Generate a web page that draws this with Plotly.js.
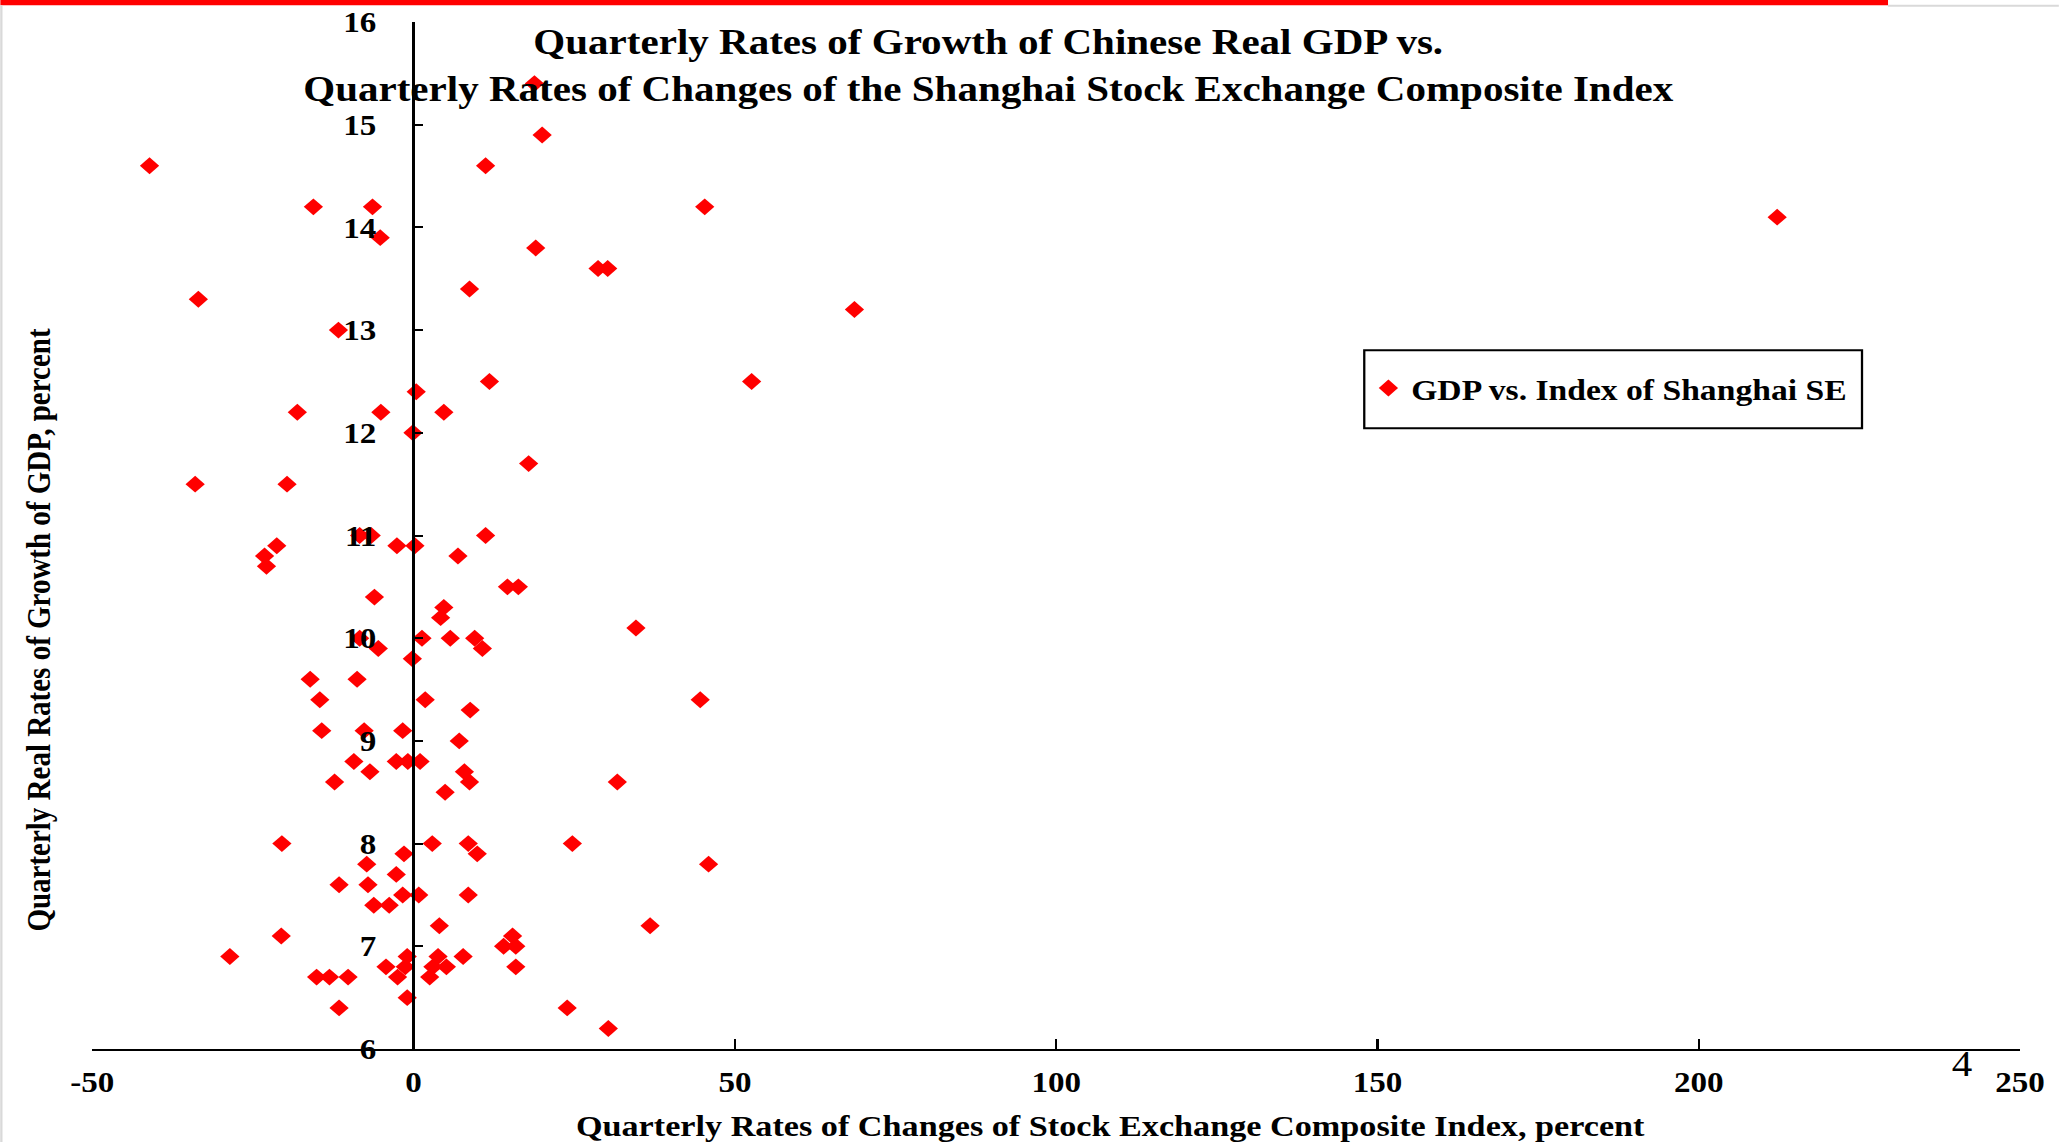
<!DOCTYPE html>
<html>
<head>
<meta charset="utf-8">
<script src="https://cdn.plot.ly/plotly-3.0.1.min.js"></script>
<style>
  html, body { margin: 0; padding: 0; background: #ffffff; overflow: hidden; }
  #stage { width: 2059px; height: 1142px; overflow: hidden; }
  /* the reference slide is stretched horizontally; reproduce that stretch */
  #chart { width: 1806px; height: 1142px; transform: scaleX(1.14); transform-origin: 0 0; }
</style>
</head>
<body>
<div id="stage"><div id="chart"></div></div>
<script>
// Quarterly change of the Shanghai SE Composite Index, percent
const indexChange = [
  -41.1, -33.5, -15.6, -6.4, -5.2, -11.7, 11.2, 8.7, 18.8, 20.0,
  45.3, 19.0, 28.7, 30.2, 68.6, 212.2, 0.4, 11.8, -18.1, -5.1,
  4.7, -0.1, -34.0, -19.7, -8.4, -6.6, 11.2, -2.6, 0.2, -21.3,
  -23.2, -22.9, 6.9, -6.1, 4.7, 4.2, -8.4, -5.5, 1.3, 5.7,
  9.5, 10.7, -0.2, -16.1, -8.8, 52.6, 17.9, 14.6, 16.3, 34.6,
  44.6, -14.6, 1.8, 8.8, -14.3, -7.7, -1.7, 7.1, -9.3, -2.7,
  -0.9, 1.0, -6.8, 7.9, 8.7, -12.3, 4.9, 31.7, -20.5, 2.9,
  8.5, 9.9, -1.5, -7.3, -2.7, -11.6, -7.1, -1.7, 0.8, 8.5,
  -6.2, -3.8, 4.0, -20.6, 14.0, 15.9, 15.4, 15.9, -28.6, -1.0,
  3.8, 7.7, -4.3, -1.3, 3.0, 5.1, -15.1, -13.1, -10.2, -2.5,
  2.5, -11.6, -1.0, 24.7, 45.9, 36.8, 23.9, 30.3
];
// Quarterly real growth rate of GDP, percent
const gdpGrowth = [
  14.6, 13.3, 14.2, 14.2, 13.9, 13.0, 14.6, 13.4, 15.4, 14.9,
  14.2, 13.8, 13.6, 13.6, 13.2, 14.1, 12.4, 12.5, 12.2, 12.2,
  12.2, 12.0, 11.5, 11.5, 11.0, 11.0, 11.0, 10.9, 10.9, 10.9,
  10.8, 10.7, 10.8, 10.4, 10.3, 10.2, 10.0, 9.9, 10.0, 10.0,
  10.0, 9.9, 9.8, 9.6, 9.6, 12.5, 11.7, 10.5, 10.5, 10.1,
  9.4, 9.4, 9.4, 9.3, 9.1, 9.1, 9.1, 9.0, 8.8, 8.8,
  8.8, 8.8, 8.7, 8.7, 8.6, 8.6, 8.5, 8.6, 8.0, 8.0,
  8.0, 7.9, 7.9, 7.8, 7.7, 7.6, 7.6, 7.5, 7.5, 7.5,
  7.4, 7.4, 7.2, 7.1, 7.0, 7.0, 7.1, 6.8, 6.9, 6.9,
  6.9, 6.9, 6.8, 6.8, 6.8, 6.8, 6.7, 6.7, 6.7, 6.7,
  6.7, 6.4, 6.5, 8.0, 7.8, 7.2, 6.4, 6.2
];
const xTickVals = [-50, 0, 50, 100, 150, 200, 250];
const xTickText = ['-50', '0', '50', '100', '150', '200', '250'];
const yTickVals = [6, 7, 8, 9, 10, 11, 12, 13, 14, 15, 16];
const yTickText = ['6', '7', '8', '9', '10', '11', '12', '13', '14', '15', '16'];

const chartTitle = 'Quarterly Rates of Growth of Chinese Real GDP vs.<br>Quarterly Rates of Changes of the Shanghai Stock Exchange Composite Index';
const xTitle = 'Quarterly Rates of Changes of Stock Exchange Composite Index, percent';
const yTitle = 'Quarterly Real Rates of Growth of GDP, percent';
const seriesName = 'GDP vs. Index of Shanghai SE';
const slideNumber = '4';

const serif = 'Liberation Serif, Times New Roman, serif';
const bold = (size) => ({ family: serif, size: size, color: '#000000', weight: 'bold' });

const trace = {
  type: 'scatter',
  mode: 'markers',
  x: indexChange,
  y: gdpGrowth,
  name: seriesName,
  showlegend: true,
  marker: { symbol: 'diamond', size: 13, color: '#ff0000', line: { width: 0 } },
  hoverinfo: 'x+y'
};

const layout = {
  width: 1806,
  height: 1142,
  paper_bgcolor: '#ffffff',
  plot_bgcolor: '#ffffff',
  margin: { l: 81, r: 34, t: 22, b: 93, pad: 0 },
  title: {
    text: chartTitle,
    font: bold(36),
    x: 0.48, xref: 'container', xanchor: 'center',
    y: 0.9525, yref: 'container', yanchor: 'middle'
  },
  showlegend: true,
  legend: {
    x: 0.6605, y: 0.6433, xanchor: 'left', yanchor: 'middle',
    xref: 'paper', yref: 'paper',
    bgcolor: 'rgba(0,0,0,0)', borderwidth: 0,
    font: bold(29.5)
  },
  xaxis: {
    range: [-50, 250],
    domain: [0, 1],
    tickmode: 'array', tickvals: xTickVals, ticktext: xTickText,
    ticks: 'inside', ticklen: 10, tickwidth: 2, tickcolor: '#000000',
    showline: true, linewidth: 2, linecolor: '#000000',
    showgrid: false, zeroline: false,
    tickfont: bold(29),
    ticklabelstandoff: 6,
    anchor: 'y'
  },
  yaxis: {
    range: [6, 16],
    tickmode: 'array', tickvals: yTickVals, ticktext: yTickText,
    anchor: 'free', position: 1 / 6, side: 'left',
    ticks: 'inside', ticklen: 7, tickwidth: 2, tickcolor: '#000000',
    showline: true, linewidth: 2, linecolor: '#000000',
    showgrid: false, zeroline: false,
    tickfont: bold(29),
    ticklabelstandoff: 26
  },
  shapes: [
    { type: 'rect', xref: 'paper', yref: 'paper', x0: -0.0477, x1: 0.9315, y0: 1.0163, y1: 1.0215,
      fillcolor: '#ff0000', line: { width: 0 }, layer: 'above' },
    { type: 'line', xref: 'paper', yref: 'paper', x0: 0.9315, x1: 1.0205, y0: 1.0158, y1: 1.0158,
      line: { color: '#d9d9d9', width: 2 } },
    { type: 'line', xref: 'paper', yref: 'paper', x0: -0.0472, x1: -0.0472, y0: -0.0905, y1: 1.0163,
      line: { color: '#d9d9d9', width: 2 } },
    { type: 'rect', xref: 'paper', yref: 'paper', x0: 0.6598, x1: 0.9180, y0: 0.6044, y1: 0.6803,
      fillcolor: 'rgba(0,0,0,0)', line: { color: '#000000', width: 2 } }
  ],
  annotations: [
    { text: xTitle, xref: 'paper', yref: 'paper', x: 0.528, y: -0.0743,
      xanchor: 'center', yanchor: 'middle', showarrow: false, font: bold(30) },
    { text: yTitle, xref: 'paper', yref: 'paper', x: -0.0275, y: 0.4087, textangle: -90,
      xanchor: 'center', yanchor: 'middle', showarrow: false, font: bold(29) },
    { text: slideNumber, xref: 'paper', yref: 'paper', x: 0.97, y: -0.0149,
      xanchor: 'center', yanchor: 'middle', showarrow: false,
      font: { family: serif, size: 36, color: '#000000' } }
  ]
};

Plotly.newPlot('chart', [trace], layout, { displayModeBar: false, responsive: false });
</script>
</body>
</html>
